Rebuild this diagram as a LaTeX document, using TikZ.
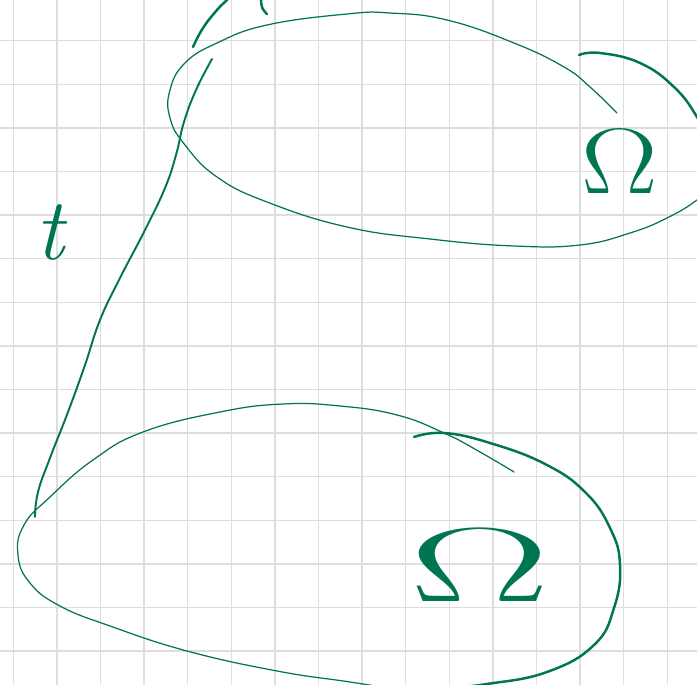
\documentclass[tikz,border=0pt]{standalone}
\usepackage{fix-cm}
\usepackage{amsmath,amssymb}
\usepackage{xcolor}
\definecolor{inkgreen}{RGB}{0,117,84}
\definecolor{papergrid}{RGB}{222,222,222}
\tikzset{
  every picture/.style={line join=round, line cap=round},
  paperline/.style={draw=papergrid, line width=0.8pt},
  inkthin/.style={draw=inkgreen, line width=0.7pt},
  inkthick/.style={draw=inkgreen, line width=1.4pt},
  inktext/.style={text=inkgreen, inner sep=0pt},
}

\begin{document}
\begin{tikzpicture}[x=0.02cm,y=-0.02cm,tension=0.75]
\useasboundingbox (0,0) rectangle (697,685);
\clip (0,0) rectangle (697,685);
\fill[white](0,0) rectangle (697,685);
% squared paper
\foreach \k in {0,...,15}
  \draw[paperline](13.3+43.6*\k,0)--(13.3+43.6*\k,685);
\foreach \k in {0,...,15}
  \draw[paperline](0,40.7+43.6*\k)--(697,40.7+43.6*\k);
% top section
\draw[inkthin, smooth]plot coordinates{(617,113)(590,87)(564,67)(514,43)(447,20)(390,13)(347,14)(267,25)(217,43)(185,63)(170,90)(170,118)(185,145)(217,177)(267,202)(347,227)(430,239)(514,246)(580,245)(630,233)(667,218)(697,200)(712,185)};
\draw[inkthick, smooth]plot coordinates{(579,55)(600,53)(640,63)(674,87)(697,117)(710,145)};
% side line
\draw[inkthick, line width=1.1pt, smooth]plot coordinates{(212,59)(196,90)(184,122)(176,155)(165,188)(145,230)(120,278)(100,320)(85,365)(68,412)(50,458)(38,492)(35,517)};
% bottom section
\draw[inkthin, smooth]plot coordinates{(514,472)(480,452)(444,433)(397,415)(340,406)(283,404)(220,412)(143,432)(93,460)(50,497)(24,525)(18,555)(30,583)(60,606)(110,626)(187,651)(277,671)(350,682)(400,690)};
\draw[inkthick, smooth]plot coordinates{(414,437)(444,433)(490,443)(545,464)(585,492)(610,528)(620,565)(614,608)(594,645)(547,672)(487,684)(447,688)};
% cut strokes at the top edge
\draw[inkthick, smooth]plot coordinates{(193,47)(203,28)(217,10)(227,0)(232,-6)};
\draw[inkthick, smooth]plot coordinates{(261,-4)(262,7)(267,14)};
% labels
\node[inktext, font=\fontsize{50}{50}\selectfont\itshape](tlabel) at (50,232){t};
\node[inktext, font=\fontsize{53}{53}\selectfont, xscale=1.23](omtop) at (620,162){$\Omega$};
\node[inktext, font=\fontsize{60}{60}\selectfont, xscale=2](ombottom) at (480,565){$\Omega$};
\end{tikzpicture}
\end{document}
